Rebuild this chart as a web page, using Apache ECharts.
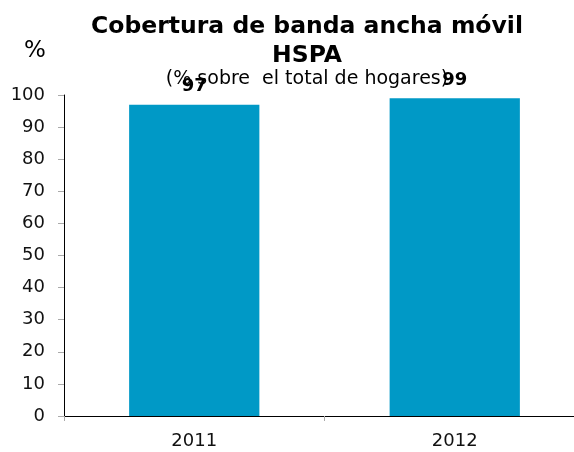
<!DOCTYPE html>
<html>
<head>
<meta charset="utf-8">
<script src="https://cdn.jsdelivr.net/npm/echarts@6/dist/echarts.min.js"></script>
<style>
  html, body { margin: 0; padding: 0; background: #fff; overflow: hidden; }
  /* el eje x continúa fuera del borde derecho, por eso el div es más ancho */
  #chart { width: 600px; height: 452px; }
</style>
</head>
<body>
<div id="chart"></div>
<script>
// datos
const years = ['2011', '2012']
const coverage = [97, 99]
const yTicks = { min: 0, max: 100, interval: 10 }

const FONT = 'DejaVu Sans'
const chart = echarts.init(document.getElementById('chart'))

const option = {
  animation: false,
  backgroundColor: '#fff',
  title: [
    {
      text: 'Cobertura de banda ancha móvil\nHSPA',
      left: 302,
      top: 7,
      textAlign: 'center',
      textStyle: { fontFamily: FONT, fontSize: 23.5, fontWeight: 'bold', color: '#000', lineHeight: 29, align: 'center' }
    },
    {
      text: '(% sobre  el total de hogares)',
      left: 302,
      top: 65,
      textAlign: 'center',
      textStyle: { fontFamily: FONT, fontSize: 19, fontWeight: 'normal', color: '#000' }
    },
    {
      text: '%',
      left: 19,
      top: 35,
      textStyle: { fontFamily: FONT, fontSize: 23, fontWeight: 'normal', color: '#000' }
    }
  ],
  grid: { left: 64, top: 95, width: 521, height: 321, containLabel: false },
  xAxis: {
    type: 'category',
    data: years,
    axisLine: { lineStyle: { color: '#000', width: 1 } },
    axisTick: { show: true, length: 5, lineStyle: { color: '#aaa' } },
    axisLabel: { fontFamily: FONT, fontSize: 18, color: '#111', margin: 16 }
  },
  yAxis: {
    type: 'value',
    min: yTicks.min,
    max: yTicks.max,
    interval: yTicks.interval,
    splitLine: { show: false },
    axisLine: { show: true, lineStyle: { color: '#000', width: 1 } },
    axisTick: { show: true, length: 6, lineStyle: { color: '#aaa' } },
    axisLabel: { fontFamily: FONT, fontSize: 18, color: '#111', margin: 19 }
  },
  series: [
    {
      type: 'bar',
      data: coverage,
      barWidth: '50%',
      itemStyle: { color: '#0099C6' },
      label: {
        show: true,
        position: 'top',
        distance: 9,
        fontFamily: FONT,
        fontSize: 18,
        fontWeight: 'bold',
        color: '#000'
      }
    }
  ]
}

chart.setOption(option)
</script>
</body>
</html>
